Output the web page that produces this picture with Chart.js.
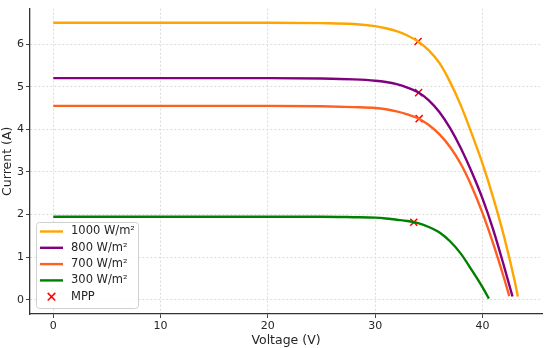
<!DOCTYPE html>
<html>
<head>
<meta charset="utf-8">
<script src="https://cdn.jsdelivr.net/npm/chart.js@4.4.1/dist/chart.umd.min.js"></script>
<style>
  html, body { margin: 0; padding: 0; background: #fff; }
  #wrap { width: 550px; height: 348px; }
</style>
</head>
<body>
<div id="wrap"><canvas id="grafico" width="550" height="348"></canvas></div>
<script>
// curve labels
const labels = ['1000 W/m²', '800 W/m²', '700 W/m²', '300 W/m²'];
const colors = ['#ffa500', '#800080', '#ff6020', '#008000'];

// I-V points (voltage V, current A)
const v1000 = [0, 10, 20, 25, 28, 30, 31, 32, 33, 34, 35, 36, 37, 38, 39, 40, 41, 42, 43, 43.3];
const i1000 = [6.5, 6.5, 6.5, 6.49, 6.47, 6.42, 6.37, 6.30, 6.20, 6.06, 5.85, 5.55, 5.10, 4.55, 3.90, 3.20, 2.40, 1.50, 0.45, 0.08];

const v800 = [0, 10, 20, 25, 28, 30, 31, 32, 33, 34, 35, 36, 37, 38, 39, 40, 41, 42, 42.8];
const i800 = [5.2, 5.2, 5.2, 5.19, 5.17, 5.14, 5.11, 5.06, 4.98, 4.87, 4.68, 4.40, 4.02, 3.55, 3.0, 2.38, 1.65, 0.8, 0.08];

const v700 = [0, 10, 20, 25, 28, 30, 31, 32, 33, 34, 35, 36, 37, 38, 39, 40, 41, 42, 42.5];
const i700 = [4.55, 4.55, 4.55, 4.54, 4.52, 4.50, 4.47, 4.42, 4.35, 4.26, 4.10, 3.88, 3.58, 3.18, 2.66, 2.04, 1.32, 0.52, 0.09];

const v300 = [0, 10, 20, 25, 28, 30, 31, 32, 33, 34, 35, 36, 37, 38, 39, 40, 40.6];
const i300 = [1.95, 1.95, 1.95, 1.95, 1.94, 1.93, 1.91, 1.88, 1.85, 1.80, 1.71, 1.58, 1.37, 1.08, 0.70, 0.30, 0.03];

// maximum power points
const mppV = [34.0, 34.05, 34.1, 33.6];
const mppI = [6.06, 4.86, 4.25, 1.82];

const xTicks = [0, 10, 20, 30, 40];
const yTicks = [0, 1, 2, 3, 4, 5, 6];

const textColor = '#262626';
const fonte = 'DejaVu Sans';

function pares(vs, is) {
    return vs.map((v, k) => ({ x: v, y: is[k] }));
}

const curvas = [[v1000, i1000], [v800, i800], [v700, i700], [v300, i300]];

const datasets = curvas.map((c, k) => ({
    label: labels[k],
    data: pares(c[0], c[1]),
    showLine: true,
    borderColor: colors[k],
    backgroundColor: colors[k],
    borderWidth: 2.4,
    pointRadius: 0,
    cubicInterpolationMode: 'monotone'
}));

datasets.push({
    label: 'MPP',
    data: pares(mppV, mppI),
    showLine: false,
    pointStyle: 'crossRot',
    pointRadius: 5,
    borderColor: '#ff0000',
    borderWidth: 1.5
});

// legend drawn inside the plot, lower left (like matplotlib)
const legendaDentro = {
    id: 'legendaDentro',
    afterDraw(chart) {
        const ctx = chart.ctx;
        const area = chart.chartArea;
        const x = area.left + 6;
        const h = 86;
        const y = area.bottom - 6 - h;
        const w = 102;
        ctx.save();
        ctx.fillStyle = 'rgba(255,255,255,0.85)';
        ctx.strokeStyle = '#d0d0d0';
        ctx.lineWidth = 1;
        ctx.beginPath();
        ctx.roundRect(x + 0.5, y + 0.5, w, h, 3);
        ctx.fill();
        ctx.stroke();
        ctx.font = '11.5px ' + fonte;
        ctx.textBaseline = 'middle';
        chart.data.datasets.forEach((ds, k) => {
            const ly = y + 9.5 + k * 16.3;
            if (ds.showLine) {
                ctx.strokeStyle = ds.borderColor;
                ctx.lineWidth = 2.4;
                ctx.beginPath();
                ctx.moveTo(x + 4, ly);
                ctx.lineTo(x + 27, ly);
                ctx.stroke();
            } else {
                ctx.strokeStyle = ds.borderColor;
                ctx.lineWidth = 1.5;
                const cx = x + 15.5, r = 3.8;
                ctx.beginPath();
                ctx.moveTo(cx - r, ly - r); ctx.lineTo(cx + r, ly + r);
                ctx.moveTo(cx + r, ly - r); ctx.lineTo(cx - r, ly + r);
                ctx.stroke();
            }
            ctx.fillStyle = textColor;
            ctx.fillText(ds.label, x + 35, ly);
        });
        ctx.restore();
    }
};

const ctx = document.getElementById('grafico').getContext('2d');

new Chart(ctx, {
    type: 'scatter',
    data: { datasets: datasets },
    options: {
        responsive: false,
        animation: false,
        layout: { padding: { left: 0, right: 8, top: 6, bottom: 0 } },
        plugins: {
            legend: { display: false },
            tooltip: { enabled: false }
        },
        scales: {
            x: {
                type: 'linear',
                min: -2.17,
                max: 45.55,
                afterBuildTicks: axis => { axis.ticks = xTicks.map(v => ({ value: v })); },
                afterFit: scale => { scale.height = 34; },
                grid: {
                    color: '#dcdcdc',
                    lineWidth: 1,
                    drawTicks: true,
                    tickLength: 4,
                    tickColor: '#444'
                },
                border: { display: true, color: '#333', width: 1.3, dash: [2, 2] },
                ticks: { color: textColor, font: { family: fonte, size: 11 }, padding: 2, maxRotation: 0 },
                title: {
                    display: true,
                    text: 'Voltage (V)',
                    color: textColor,
                    font: { family: fonte, size: 12.5 },
                    padding: { top: 0, bottom: 0 }
                }
            },
            y: {
                type: 'linear',
                min: -0.33,
                max: 6.83,
                afterBuildTicks: axis => { axis.ticks = yTicks.map(v => ({ value: v })); },
                afterFit: scale => { scale.width = 30; },
                grid: {
                    color: '#dcdcdc',
                    lineWidth: 1,
                    drawTicks: true,
                    tickLength: 4,
                    tickColor: '#444'
                },
                border: { display: true, color: '#333', width: 1.3, dash: [2, 2] },
                ticks: { color: textColor, font: { family: fonte, size: 11 }, padding: 2 },
                title: {
                    display: true,
                    text: 'Current (A)',
                    color: textColor,
                    font: { family: fonte, size: 12.5 },
                    padding: { top: 0, bottom: 0 }
                }
            }
        }
    },
    plugins: [legendaDentro]
});
</script>
</body>
</html>
